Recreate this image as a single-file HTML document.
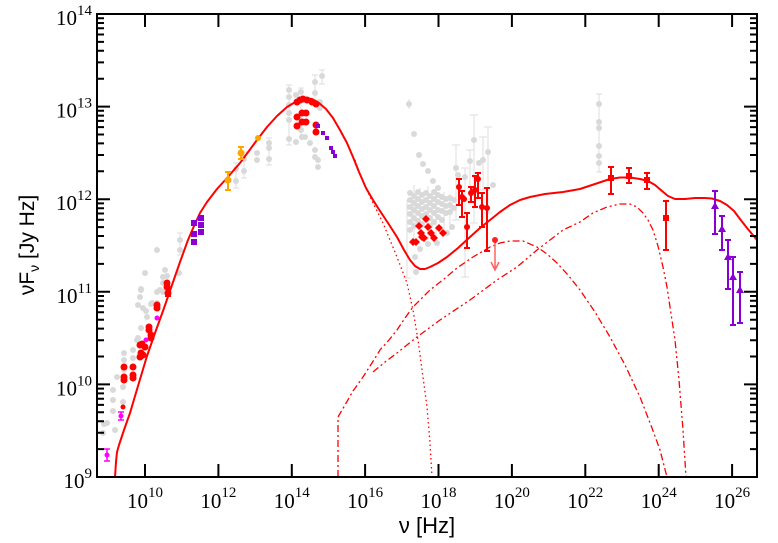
<!DOCTYPE html>
<html><head><meta charset="utf-8"><style>html,body{margin:0;padding:0;background:#fff}svg{display:block}</style></head><body>
<svg width="778" height="543" viewBox="0 0 778 543" xmlns="http://www.w3.org/2000/svg">
<rect width="778" height="543" fill="#fff"/>

<!-- gray error bars -->
<g stroke="#dcdcdc" stroke-width="1" fill="none">
<path d="M456,145V220M452,145H460M452,220H460 M474,115V223M470,115H478M470,223H478 M483,137V190M479,137H487M479,190H487 M488,127V213M484,127H492M484,213H492 M465,168V277M461,168H469M461,277H469 M470,150V200M466,150H474M466,200H474 M599,94V172M596,94H602M596,172H602 M289,85V145M286,85H292M286,145H292 M322,70V84M319,70H325M319,84H325 M315,75V100M312,75H318M312,100H318 M301,88V140M298,88H304 M180,233V255M177,233H183M177,255H183 M236,163V188M233,163H239M233,188H239 M244,152V178M241,152H247M241,178H247 M269,138V165M266,138H272M266,165H272 M409,99V109 M414,185V240 M420,188V238 M428,186V240 M436,190V236 M444,192V234 M450,194V230 M407,200V278 M403,278H411"/>
</g>
<!-- gray points -->
<g fill="#d9d9d9">
<circle cx="103" cy="433" r="3"/><circle cx="107" cy="423" r="3"/><circle cx="104" cy="424" r="3"/><circle cx="115" cy="430" r="3"/><circle cx="113" cy="390" r="3"/><circle cx="113" cy="400" r="3"/><circle cx="113" cy="411" r="3"/><circle cx="117" cy="377" r="3"/><circle cx="123" cy="387" r="3"/><circle cx="123" cy="402" r="3"/><circle cx="124" cy="353" r="3"/><circle cx="124" cy="360" r="3"/><circle cx="124" cy="370" r="3"/><circle cx="133" cy="350" r="3"/><circle cx="133" cy="358" r="3"/><circle cx="133" cy="367" r="3"/><circle cx="137" cy="340" r="3"/><circle cx="140" cy="297" r="3"/><circle cx="141" cy="290" r="3"/><circle cx="143" cy="308" r="3"/><circle cx="145" cy="273" r="3"/><circle cx="146" cy="311" r="3"/><circle cx="147" cy="317" r="3"/><circle cx="152" cy="303" r="3"/><circle cx="157" cy="303" r="3"/><circle cx="160" cy="290" r="3"/><circle cx="163" cy="277" r="3"/><circle cx="163" cy="283" r="3"/><circle cx="165" cy="270" r="3"/><circle cx="157" cy="292" r="3"/><circle cx="163" cy="292" r="3"/><circle cx="167" cy="276" r="3"/><circle cx="141" cy="289" r="3"/><circle cx="138" cy="305" r="3"/><circle cx="141" cy="328" r="3"/><circle cx="138" cy="338" r="3"/><circle cx="157" cy="250" r="3"/><circle cx="180" cy="240" r="3"/><circle cx="180" cy="250" r="3"/><circle cx="179" cy="273" r="3"/><circle cx="151" cy="304" r="3"/>
<circle cx="236" cy="169" r="3"/><circle cx="236" cy="181" r="3"/><circle cx="244" cy="159" r="3"/><circle cx="244" cy="171" r="3"/><circle cx="257" cy="153" r="3"/><circle cx="257" cy="160" r="3"/><circle cx="269" cy="143" r="3"/><circle cx="269" cy="148" r="3"/><circle cx="269" cy="159" r="3"/>
<circle cx="289" cy="90" r="3"/><circle cx="289" cy="97" r="3"/><circle cx="289" cy="105" r="3"/><circle cx="289" cy="113" r="3"/><circle cx="289" cy="120" r="3"/><circle cx="289" cy="139" r="3"/><circle cx="296" cy="95" r="3"/><circle cx="296" cy="142" r="3"/><circle cx="301" cy="92" r="3"/><circle cx="301" cy="130" r="3"/><circle cx="302" cy="137" r="3"/><circle cx="305" cy="137" r="3"/><circle cx="310" cy="143" r="3"/><circle cx="315" cy="82" r="3"/><circle cx="315" cy="93" r="3"/><circle cx="315" cy="150" r="3"/><circle cx="315" cy="157" r="3"/><circle cx="318" cy="160" r="3"/><circle cx="318" cy="167" r="3"/><circle cx="322" cy="76" r="3"/><circle cx="320" cy="102" r="3"/><circle cx="320" cy="108" r="3"/>
<circle cx="409" cy="104" r="3"/><circle cx="414" cy="134" r="3"/><circle cx="419" cy="155" r="3"/><circle cx="423" cy="164" r="3"/><circle cx="428" cy="171" r="3"/><circle cx="433" cy="181" r="3"/><circle cx="438" cy="188" r="3"/><circle cx="456" cy="168" r="3"/><circle cx="458" cy="175" r="3"/><circle cx="465" cy="177" r="3"/><circle cx="470" cy="161" r="3"/><circle cx="474" cy="140" r="3"/><circle cx="479" cy="163" r="3"/><circle cx="483" cy="160" r="3"/><circle cx="488" cy="152" r="3"/><circle cx="493" cy="185" r="3"/><circle cx="467" cy="227" r="3"/><circle cx="452" cy="227" r="3"/><circle cx="447" cy="233" r="3"/><circle cx="437" cy="243" r="3"/><circle cx="428" cy="244" r="3"/><circle cx="420" cy="249" r="3"/><circle cx="415" cy="257" r="3"/><circle cx="416" cy="272" r="3"/>
<circle cx="410" cy="193" r="3"/><circle cx="410" cy="200" r="3"/><circle cx="410" cy="207" r="3"/><circle cx="410" cy="214" r="3"/><circle cx="410" cy="222" r="3"/><circle cx="410" cy="230" r="3"/>
<circle cx="414" cy="196" r="3"/><circle cx="414" cy="203" r="3"/><circle cx="414" cy="210" r="3"/><circle cx="414" cy="218" r="3"/><circle cx="414" cy="226" r="3"/>
<circle cx="418" cy="192" r="3"/><circle cx="418" cy="199" r="3"/><circle cx="418" cy="206" r="3"/><circle cx="418" cy="213" r="3"/><circle cx="418" cy="221" r="3"/>
<circle cx="422" cy="195" r="3"/><circle cx="422" cy="202" r="3"/><circle cx="422" cy="209" r="3"/><circle cx="422" cy="216" r="3"/><circle cx="422" cy="224" r="3"/>
<circle cx="426" cy="193" r="3"/><circle cx="426" cy="200" r="3"/><circle cx="426" cy="207" r="3"/><circle cx="426" cy="214" r="3"/>
<circle cx="430" cy="196" r="3"/><circle cx="430" cy="203" r="3"/><circle cx="430" cy="210" r="3"/><circle cx="430" cy="218" r="3"/><circle cx="430" cy="226" r="3"/>
<circle cx="434" cy="192" r="3"/><circle cx="434" cy="199" r="3"/><circle cx="434" cy="206" r="3"/><circle cx="434" cy="213" r="3"/><circle cx="434" cy="222" r="3"/>
<circle cx="438" cy="195" r="3"/><circle cx="438" cy="202" r="3"/><circle cx="438" cy="210" r="3"/><circle cx="438" cy="217" r="3"/>
<circle cx="442" cy="197" r="3"/><circle cx="442" cy="204" r="3"/><circle cx="442" cy="211" r="3"/><circle cx="442" cy="220" r="3"/>
<circle cx="446" cy="199" r="3"/><circle cx="446" cy="206" r="3"/><circle cx="446" cy="213" r="3"/>
<circle cx="450" cy="198" r="3"/><circle cx="450" cy="205" r="3"/><circle cx="450" cy="212" r="3"/>
<circle cx="454" cy="200" r="3"/><circle cx="454" cy="208" r="3"/>
<circle cx="599" cy="104" r="3"/><circle cx="599" cy="122" r="3"/><circle cx="599" cy="128" r="3"/><circle cx="599" cy="146" r="3"/><circle cx="599" cy="156" r="3"/><circle cx="599" cy="163" r="3"/>
</g>

<!-- model curves -->
<g fill="none" stroke="#ff0000">
<path stroke-width="1.3" stroke-dasharray="1.5,3" d="M355,160 L359,172 L366,188 L373,203 L383,223 L390,240 L397,257 L402,270 L407,283 L413,310 L418,340 L423,377 L427,407 L430,443 L432,477"/>
<path stroke-width="1.3" stroke-dasharray="7,3,2,3" d="M338,477 L338,417 L345,405 L353,391 L363,377 L372,363 L380,350 L389,340 L397,330 L405,318 L413,307 L422,298 L430,290 L444,279 L457,268 L473,257 L490,247 L500,243 L510,241 L523,241 L537,247 L547,254 L557,263 L568,275 L580,290 L595,312 L610,337 L625,365 L640,397 L652,428 L660,450 L667,477"/>
<path stroke-width="1.3" stroke-dasharray="7,3,2,3,2,3" d="M373,372 L385,362 L397,353 L417,337 L440,320 L470,300 L497,280 L517,267 L537,250 L563,230 L580,222 L593,213 L607,207 L620,204 L630,204 L637,207 L643,213 L648,220 L653,230 L658,246 L663,267 L667,287 L670,307 L675,340 L679,380 L683,430 L686,477"/>
<path stroke-width="2" stroke-linejoin="round" d="M115,477 L116,462 L117,452 L119,445 L124,430 L130,413 L138,386 L147,356 L155,333 L163,311 L172,285 L180,262 L188,240 L194,226 L200,213 L207,202 L217,189 L227,178 L240,163 L257,140 L267,127 L277,116 L287,107 L297,101 L305,98 L312,99 L319,103 L326,109 L333,118 L340,130 L347,143 L353,157 L359,172 L366,188 L373,200 L380,211 L388,223 L397,237 L404,250 L410,260 L415,266 L420,269 L425,269 L430,267 L438,263 L447,257 L458,248 L470,237 L480,228 L490,220 L500,212 L510,205 L520,200 L530,197 L545,194 L563,192 L580,189 L595,184 L610,179 L620,177.5 L630,177.5 L640,179 L648,181 L655,185 L662,191 L668,196 L675,199 L685,199 L695,198 L705,198 L712,198.5 L720,201 L727,205 L734,211 L740,219 L747,228 L757,240"/>
</g>

<!-- red error bars -->
<g stroke="#ff0000" stroke-width="2" fill="none">
<path d="M459,179V205M456,179H462M456,205H462 M462,191V217M459,191H465M459,217H465 M467,213V248M464,213H470M464,248H470 M471,187V202M468,187H474M468,202H474 M475,176V207M472,176H478M472,207H478 M478,173V198M475,173H481M475,198H481 M482,193V227M479,193H485M479,227H485 M487,188V251M484,188H490M484,251H490"/>
<path d="M611,167V194M608,167H614M608,194H614 M629,168V183M626,168H632M626,183H632 M647,173V189M644,173H650M644,189H650 M666,201V250M663,201H669M663,250H669"/>
<path d="M168,280V296M165,296H171"/>
</g>
<path d="M495,240V268M491,262L495,270L499,262" stroke="#ff6060" stroke-width="1.5" fill="none"/>
<circle cx="495" cy="240" r="3" fill="#ff2020"/>

<!-- red points -->
<g fill="#ff0000">
<circle cx="123" cy="407" r="2.5"/><circle cx="124" cy="367" r="3.5"/><circle cx="124" cy="377" r="3.5"/><circle cx="124" cy="380" r="3.5"/><circle cx="133" cy="367" r="3.5"/><circle cx="133" cy="375" r="3.5"/><circle cx="133" cy="378" r="3.5"/><circle cx="141" cy="353" r="3.5"/><circle cx="140" cy="345" r="3.5"/><circle cx="140" cy="357" r="3.5"/><circle cx="145" cy="347" r="3.5"/><circle cx="142" cy="344" r="3.5"/><circle cx="143" cy="355" r="3.5"/><circle cx="149" cy="327" r="3.5"/><circle cx="149" cy="330" r="3.5"/><circle cx="151" cy="335" r="3.5"/><circle cx="151" cy="338" r="3.5"/><circle cx="157" cy="305" r="3.5"/><circle cx="157" cy="308" r="3.5"/><circle cx="167" cy="283" r="3.5"/><circle cx="167" cy="287" r="3.5"/><circle cx="168" cy="293" r="3.5"/>
<circle cx="297" cy="102" r="3.5"/><circle cx="300" cy="100" r="3.5"/><circle cx="303" cy="99" r="3.5"/><circle cx="307" cy="100" r="3.5"/><circle cx="312" cy="102" r="3.5"/><circle cx="316" cy="104" r="3.5"/><circle cx="297" cy="117" r="3.5"/><circle cx="302" cy="113" r="3.5"/><circle cx="306" cy="113" r="3.5"/><circle cx="297" cy="126" r="3.5"/><circle cx="302" cy="122" r="3.5"/><circle cx="306" cy="122" r="3.5"/><circle cx="316" cy="125" r="3.5"/><circle cx="316" cy="132" r="3.5"/>
<circle cx="459" cy="187" r="3"/><circle cx="462" cy="197" r="3"/><circle cx="464" cy="199" r="3"/><circle cx="467" cy="227" r="3"/><circle cx="471" cy="193" r="3"/><circle cx="475" cy="190" r="3"/><circle cx="478" cy="179" r="3"/><circle cx="482" cy="207" r="3"/><circle cx="487" cy="208" r="3"/>
<rect x="608" y="175" width="6" height="6"/><rect x="626" y="173" width="6" height="6"/><rect x="644" y="177" width="6" height="6"/><rect x="663" y="215" width="6" height="6"/>
<path d="M413,238l4,4l-4,4l-4,-4z M416,238l4,4l-4,4l-4,-4z M419,222l4,4l-4,4l-4,-4z M426,215l4,4l-4,4l-4,-4z M428,223l4,4l-4,4l-4,-4z M421,229l4,4l-4,4l-4,-4z M422,233l4,4l-4,4l-4,-4z M424,234l4,4l-4,4l-4,-4z M431,229l4,4l-4,4l-4,-4z M434,234l4,4l-4,4l-4,-4z M439,224l4,4l-4,4l-4,-4z M443,229l4,4l-4,4l-4,-4z"/>
</g>

<!-- purple -->
<g stroke="#8a00d4" stroke-width="2" fill="none">
<path d="M715,191V234M712,191H718M712,234H718 M722,216V250M719,216H725M719,250H725 M728,240V289M725,240H731M725,289H731 M733,257V325M730,257H736M730,325H736 M740,272V323M737,272H743M737,323H743"/>
</g>
<g fill="#8a00d4">
<path d="M715,202l4,7h-8z M722,225l4,7h-8z M728,253l4,7h-8z M733,273l4,7h-8z M740,286l4,7h-8z"/>
<rect x="191" y="220" width="6" height="6"/><rect x="198" y="215" width="6" height="6"/><rect x="198" y="222" width="6" height="6"/><rect x="198" y="229" width="6" height="6"/><rect x="191" y="231" width="6" height="6"/><rect x="191" y="239" width="6" height="6"/>
<rect x="316" y="124" width="4" height="4"/><rect x="321" y="131" width="4" height="4"/><rect x="325" y="136" width="4" height="4"/><rect x="329" y="146" width="4" height="4"/><rect x="331" y="150" width="4" height="4"/><rect x="333" y="154" width="4" height="4"/>
</g>

<!-- magenta -->
<g stroke="#ff00ff" stroke-width="1.5" fill="none"><path d="M107,449V461M104,449H110M104,461H110 M121,412V420M118,412H124M118,420H124"/></g>
<g fill="#ff00ff"><circle cx="107" cy="455" r="2.5"/><circle cx="121" cy="416" r="2.5"/><circle cx="146" cy="340" r="2.5"/><circle cx="157" cy="318" r="2.5"/></g>

<!-- orange -->
<g stroke="#ffa500" stroke-width="2" fill="none"><path d="M228,172V190M225,172H231M225,190H231 M241,147V159M238,147H244M238,159H244"/></g>
<g fill="#ffa500"><circle cx="228" cy="180" r="3.5"/><circle cx="241" cy="153" r="3.5"/><circle cx="258" cy="138" r="3"/></g>

<!-- axes frame -->
<rect x="97" y="14" width="660" height="463" fill="none" stroke="#000" stroke-width="2"/>
<g stroke="#000" stroke-width="2" fill="none">
<path d="M145,477v-13M218.4,477v-13M291.8,477v-13M365.1,477v-13M438.5,477v-13M511.9,477v-13M585.3,477v-13M658.7,477v-13M732.1,477v-13
M145,14v13M218.4,14v13M291.8,14v13M365.1,14v13M438.5,14v13M511.9,14v13M585.3,14v13M658.7,14v13M732.1,14v13"/>
<path d="M97,477h13M97,384.4h13M97,291.8h13M97,199.2h13M97,106.6h13M97,14h13
M757,477h-13M757,384.4h-13M757,291.8h-13M757,199.2h-13M757,106.6h-13M757,14h-13"/>
<path d="M97,449.1h7M97,432.8h7M97,421.2h7M97,412.3h7M97,404.9h7M97,398.7h7M97,393.4h7M97,388.6h7
M97,356.5h7M97,340.2h7M97,328.6h7M97,319.7h7M97,312.3h7M97,306.1h7M97,300.8h7M97,296h7
M97,263.9h7M97,247.6h7M97,236h7M97,227.1h7M97,219.7h7M97,213.5h7M97,208.2h7M97,203.4h7
M97,171.3h7M97,155h7M97,143.4h7M97,134.5h7M97,127.1h7M97,120.9h7M97,115.6h7M97,110.8h7
M97,78.7h7M97,62.4h7M97,50.8h7M97,41.9h7M97,34.5h7M97,28.3h7M97,23h7M97,18.2h7
M757,449.1h-7M757,432.8h-7M757,421.2h-7M757,412.3h-7M757,404.9h-7M757,398.7h-7M757,393.4h-7M757,388.6h-7
M757,356.5h-7M757,340.2h-7M757,328.6h-7M757,319.7h-7M757,312.3h-7M757,306.1h-7M757,300.8h-7M757,296h-7
M757,263.9h-7M757,247.6h-7M757,236h-7M757,227.1h-7M757,219.7h-7M757,213.5h-7M757,208.2h-7M757,203.4h-7
M757,171.3h-7M757,155h-7M757,143.4h-7M757,134.5h-7M757,127.1h-7M757,120.9h-7M757,115.6h-7M757,110.8h-7
M757,78.7h-7M757,62.4h-7M757,50.8h-7M757,41.9h-7M757,34.5h-7M757,28.3h-7M757,23h-7M757,18.2h-7"/>
</g>

<!-- tick labels -->
<g font-family="'Liberation Serif', serif" font-size="21" fill="#000">
<text x="92" y="488" text-anchor="end">10<tspan font-size="15" dy="-10">9</tspan></text>
<text x="92" y="395.4" text-anchor="end">10<tspan font-size="15" dy="-10">10</tspan></text>
<text x="92" y="302.8" text-anchor="end">10<tspan font-size="15" dy="-10">11</tspan></text>
<text x="92" y="210.2" text-anchor="end">10<tspan font-size="15" dy="-10">12</tspan></text>
<text x="92" y="117.6" text-anchor="end">10<tspan font-size="15" dy="-10">13</tspan></text>
<text x="92" y="25" text-anchor="end">10<tspan font-size="15" dy="-10">14</tspan></text>

<text x="145" y="508" text-anchor="middle">10<tspan font-size="15" dy="-11">10</tspan></text>
<text x="218.4" y="508" text-anchor="middle">10<tspan font-size="15" dy="-11">12</tspan></text>
<text x="291.8" y="508" text-anchor="middle">10<tspan font-size="15" dy="-11">14</tspan></text>
<text x="365.1" y="508" text-anchor="middle">10<tspan font-size="15" dy="-11">16</tspan></text>
<text x="438.5" y="508" text-anchor="middle">10<tspan font-size="15" dy="-11">18</tspan></text>
<text x="511.9" y="508" text-anchor="middle">10<tspan font-size="15" dy="-11">20</tspan></text>
<text x="585.3" y="508" text-anchor="middle">10<tspan font-size="15" dy="-11">22</tspan></text>
<text x="658.7" y="508" text-anchor="middle">10<tspan font-size="15" dy="-11">24</tspan></text>
<text x="732.1" y="508" text-anchor="middle">10<tspan font-size="15" dy="-11">26</tspan></text>
</g>

<!-- axis titles -->
<g font-family="'Liberation Sans', sans-serif" fill="#000">
<text x="427" y="533" text-anchor="middle" font-size="22">ν [Hz]</text>
<text transform="translate(34,245) rotate(-90)" text-anchor="middle" font-size="21">νF<tspan font-size="14" dy="5">ν</tspan><tspan dy="-5"> [Jy Hz]</tspan></text>
</g>
</svg>
</body></html>
